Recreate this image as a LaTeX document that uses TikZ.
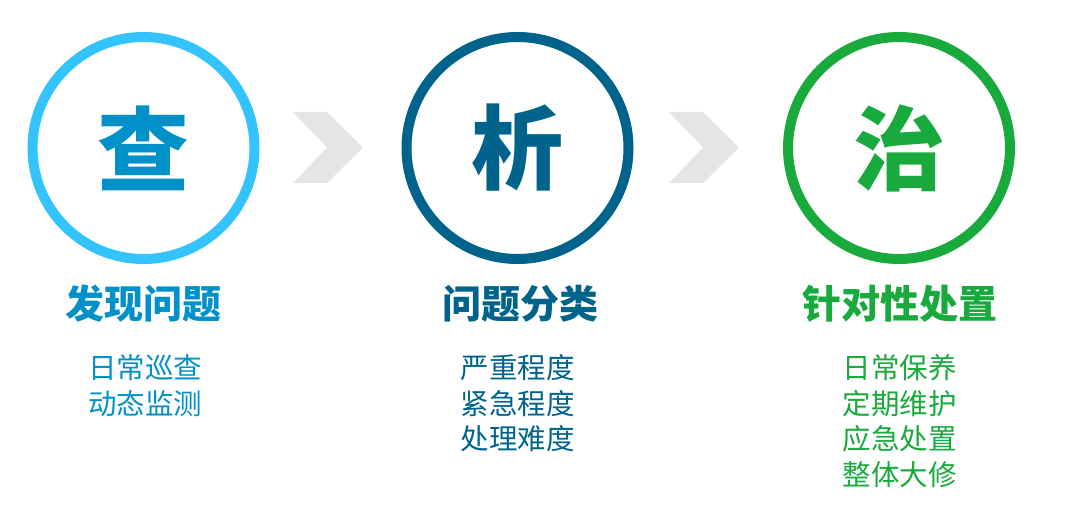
\documentclass[tikz,border=0pt]{standalone}
\usepackage{fontspec}
\setmainfont{Noto Sans CJK SC}
\usetikzlibrary{positioning}

\definecolor{ringCha}{RGB}{51,196,255}
\definecolor{textCha}{RGB}{0,145,201}
\definecolor{ringXi}{RGB}{0,99,140}
\definecolor{ringZhi}{RGB}{24,170,60}
\definecolor{chevGray}{RGB}{229,229,229}

\tikzset{
  ring/.style = {circle, draw, line width=10pt, minimum size=222pt, inner sep=0pt,
                 font=\bfseries\fontsize{92}{92}\selectfont},
  headline/.style = {inner sep=0pt, font=\bfseries\fontsize{39}{39}\selectfont},
  subline/.style = {inner sep=0pt, font=\fontsize{28.5}{28.5}\selectfont},
  pics/chevron/.style = {code = {
      \fill[chevGray] (-35,-35.5) -- (-1,-35.5) -- (35,0) -- (-1,35.5)
                      -- (-35,35.5) -- (-1,0) -- cycle;
  }}
}

\begin{document}
\begin{tikzpicture}[x=1pt, y=-1pt]
  \useasboundingbox (0,0) rectangle (1080,511);

  % three steps
  \node [ring, draw=ringCha, text=textCha] (cha) at (143.5,148) {查};
  \node [ring, draw=ringXi, text=ringXi] (xi) at (517.5,148) {析};
  \node [ring, draw=ringZhi, text=ringZhi] (zhi) at (899,148) {治};

  % arrows between them
  \pic at (328,147.5) {chevron};
  \pic at (704,147.5) {chevron};

  % headlines
  \node [headline, text=textCha] (h1) at (143.5,304) {发现问题};
  \node [headline, text=ringXi] (h2) at (520,304) {问题分类};
  \node [headline, text=ringZhi] (h3) at (900,304) {针对性处置};

  % details
  \foreach \txt [count=\i] in {日常巡查,动态监测}
    \node [subline, text=textCha] (s1-\i) at (145,{332.5+35.5*\i}) {\txt};
  \foreach \txt [count=\i] in {严重程度,紧急程度,处理难度}
    \node [subline, text=ringXi] (s2-\i) at (517.5,{332.5+35.5*\i}) {\txt};
  \foreach \txt [count=\i] in {日常保养,定期维护,应急处置,整体大修}
    \node [subline, text=ringZhi] (s3-\i) at (899.5,{332.5+35.5*\i}) {\txt};

\end{tikzpicture}
\end{document}
